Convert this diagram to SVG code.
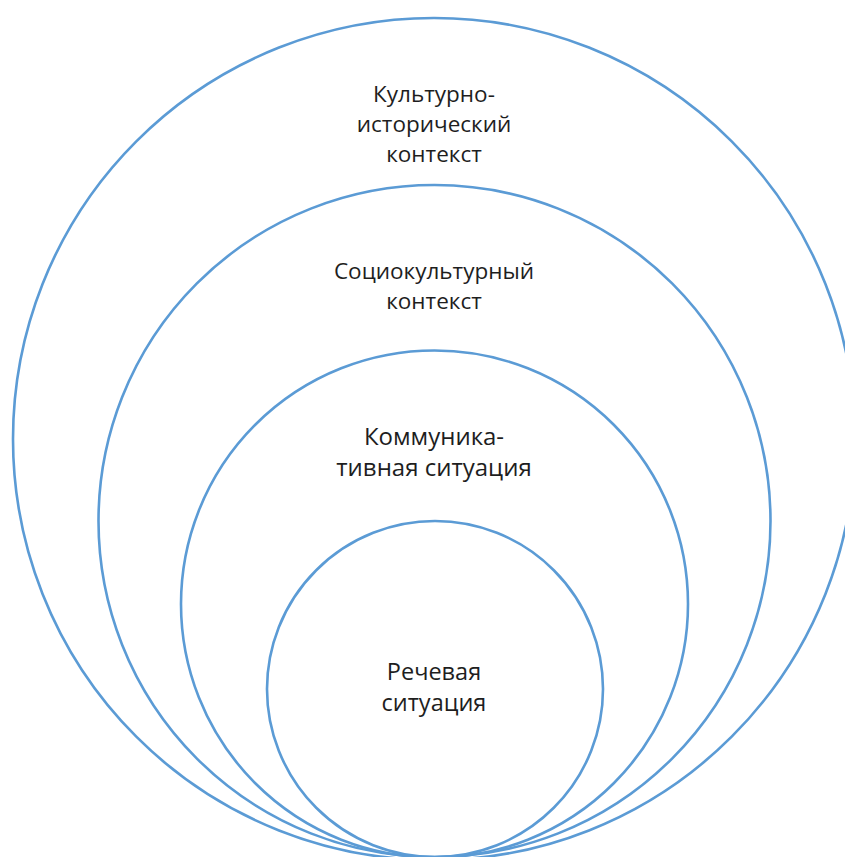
<svg xmlns="http://www.w3.org/2000/svg" width="845" height="857" viewBox="0 0 845 857">
<style>
.c{fill:none;stroke:#5b9bd5;stroke-width:2.6}
.t{font-family:"Open Sans","Liberation Sans",sans-serif;font-size:22.5px;fill:#1e1e1e;text-anchor:middle}
.b{font-size:24px}
.r{font-size:23.5px}
</style>
<rect width="845" height="857" fill="#fff"/>
<g id="n1"><circle class="c" cx="434" cy="439" r="421"/>
<text class="t" x="434" y="102">Культурно-</text>
<text class="t" x="434" y="132">исторический</text>
<text class="t" x="434" y="162">контекст</text></g>
<g id="n2"><circle class="c" cx="434.5" cy="521" r="336"/>
<text class="t" x="434" y="279">Социокультурный</text>
<text class="t" x="434" y="309">контекст</text></g>
<g id="n3"><circle class="c" cx="434.5" cy="604" r="253.5"/>
<text class="t b" x="434" y="445">Коммуника-</text>
<text class="t b" x="434" y="476">тивная ситуация</text></g>
<g id="n4"><circle class="c" cx="435" cy="689" r="168"/>
<text class="t r" x="434" y="680">Речевая</text>
<text class="t r" x="434" y="711">ситуация</text></g>
</svg>
